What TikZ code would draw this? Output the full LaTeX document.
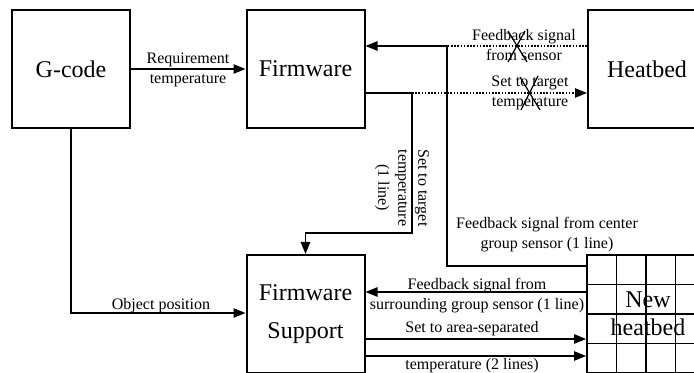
\documentclass[tikz,border=0pt]{standalone}
\usepackage{fontspec}
\setmainfont{Liberation Serif}
\usetikzlibrary{arrows.meta}
\tikzset{
  box/.style={draw, line width=1.5pt, minimum width=88.5pt, minimum height=88.5pt, inner sep=0pt, font=\fontsize{18}{29}\selectfont, align=center},
  conn/.style={line width=1.1pt},
  arr/.style={conn, -{Triangle[length=9pt,width=7pt]}},
  dots/.style={line width=1.1pt, dash pattern=on 1.2pt off 1.2pt},
  lbl/.style={font=\fontsize{12}{15}\selectfont, align=center, inner sep=0pt},
  cross/.style={line width=0.9pt},
  gridline/.style={line width=1.3pt}
}
\begin{document}
\begin{tikzpicture}[x=0.75pt, y=-0.75pt]
\clip (0,0) rectangle (694,373);
\fill[white] (0,0) rectangle (694,373);
% boxes
\node[box] (gcode) at (71,69) {G-code};
\node[box] (fw) at (305.5,69) {Firmware};
\node[box] (hb) at (647,69) {Heatbed};
\node[box] (fws) at (305.5,314) {Firmware\\Support};
\node[box, line width=1.3pt] (nhb) at (646,314) {};
% grid of the new heatbed
\foreach \gx in {616.5,646,675.5} \draw[gridline] (\gx,255) -- (\gx,373);
\foreach \gy in {284.5,314,343.5} \draw[gridline] (587,\gy) -- (705,\gy);
\node[font=\fontsize{18}{21}\selectfont, align=center, inner sep=0pt] (nhbtext) at (648,314) {New\\heatbed};
% coordinates
\coordinate (fbA) at (447,266);
\coordinate (fbB) at (447,46);
\coordinate (stA) at (412,93);
\coordinate (stB) at (412,233);
\coordinate (op) at (71,313);
\coordinate (sf) at (500,292);
\coordinate (ar1) at (500,339);
\coordinate (ar2) at (500,356);
% connectors
\draw[arr] (gcode) -- (fw);
\draw[arr] (nhb.west |- fbA) -- (fbA) -- (fbB) -- (fw.east |- fbB);
\draw[dots] (hb.west |- fbB) -- (fbB);
\draw[conn] (fw.east |- stA) -- (stA);
\draw[dots, -{Triangle[length=9pt,width=7pt]}] (stA) -- (hb.west |- stA);
\draw[arr] (stA) -- (stB) -- (fws.north |- stB) -- (fws.north);
\draw[arr] (gcode.south) -- (op) -- (fws.west |- op);
\draw[arr] (nhb.west |- sf) -- (fws.east |- sf);
\draw[arr] (fws.east |- ar1) -- (nhb.west |- ar1);
\draw[arr] (fws.east |- ar2) -- (nhb.west |- ar2);
% labels
\node[lbl] (l1) at (188,70) {Requirement\\temperature};
\node[lbl] (l2) at (524,45.5) {Feedback signal\\from sensor};
\node[lbl] (l3) at (530,93) {Set to target\\temperature};
\node[lbl, rotate=-90] (l4) at (402,188) {Set to target\\temperature\\(1 line)};
\node[lbl] (l5) at (547,235) {Feedback signal from center\\group sensor (1 line)};
\node[lbl] (l6) at (477,295.5) {Feedback signal from\\surrounding group sensor (1 line)};
\node[lbl] (l7) at (472,329) {Set to area-separated};
\node[lbl] (l8) at (472,365.5) {temperature (2 lines)};
\node[lbl] (l9) at (161,306) {Object position};
% crosses
\draw[cross] (508,31) -- (527,62);
\draw[cross] (525,31) -- (508,62);
\draw[cross] (520,77) -- (540,110);
\draw[cross] (538,76) -- (521,110);
\end{tikzpicture}
\end{document}
